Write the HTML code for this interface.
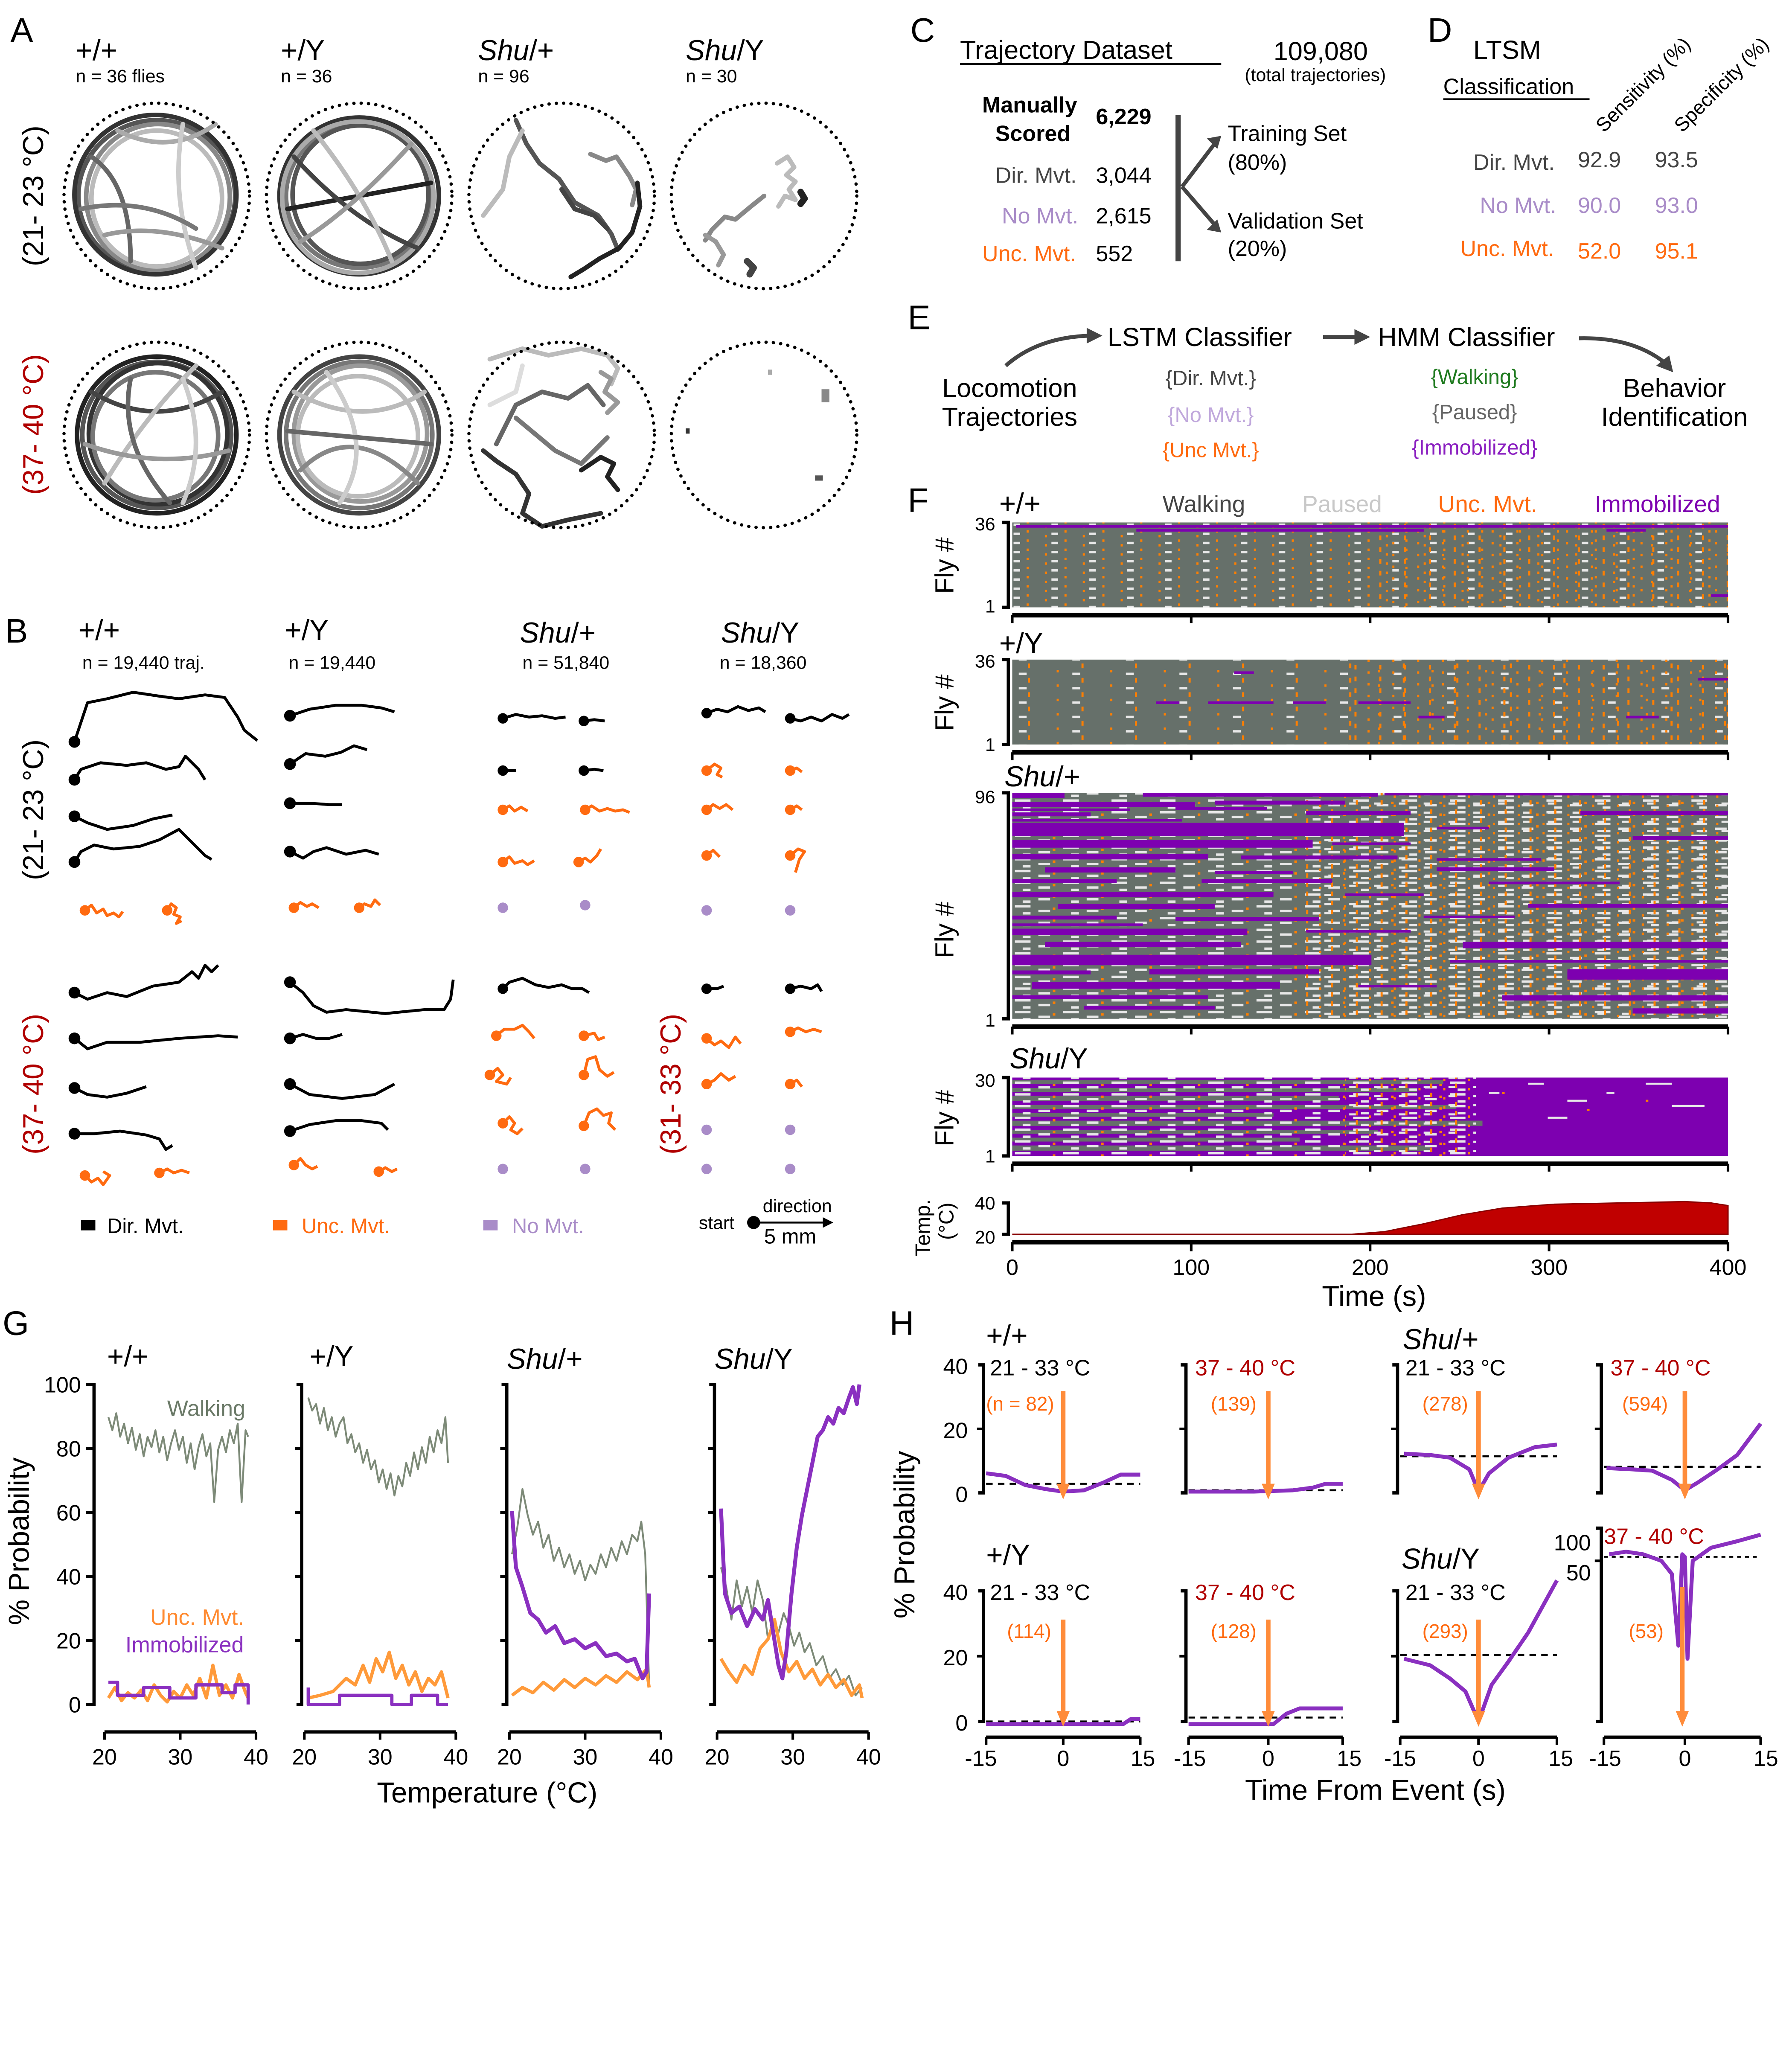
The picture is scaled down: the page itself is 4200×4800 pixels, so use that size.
<!DOCTYPE html>
<html><head><meta charset="utf-8"><style>
html,body{margin:0;padding:0;background:#fff}
svg{display:block}
text{font-family:"Liberation Sans",sans-serif}
</style></head><body>
<svg xmlns="http://www.w3.org/2000/svg" width="4200" height="4800" viewBox="0 0 1372 1568">
<defs>
<pattern id="po1" width="29" height="7" patternUnits="userSpaceOnUse"><rect x="3" y="0" width="1.6" height="1.8" fill="#ff7f00"/><rect x="17" y="3.6" width="1.6" height="1.8" fill="#ff7f00"/><rect x="22" y="1.8" width="5" height="1.8" fill="#e8e8e8"/></pattern>
<pattern id="po2" width="41" height="11" patternUnits="userSpaceOnUse"><rect x="8" y="2" width="1.6" height="3.6" fill="#ff7f00"/><rect x="30" y="7" width="1.6" height="1.8" fill="#ff7f00"/><rect x="1" y="9" width="6" height="1.8" fill="#e8e8e8"/></pattern>
<pattern id="po3" width="19" height="9" patternUnits="userSpaceOnUse"><rect x="2" y="1" width="1.6" height="1.8" fill="#ff7f00"/><rect x="11" y="5" width="1.6" height="3.6" fill="#ff7f00"/></pattern>
<pattern id="pm1" width="37" height="9" patternUnits="userSpaceOnUse"><rect x="0" y="0" width="12" height="1.8" fill="#e8e8e8"/><rect x="18" y="3.6" width="9" height="1.8" fill="#e8e8e8"/><rect x="6" y="5.4" width="6" height="1.8" fill="#e8e8e8"/><rect x="29" y="1.8" width="2" height="1.8" fill="#ff7f00"/></pattern>
<pattern id="pm2" width="19" height="7" patternUnits="userSpaceOnUse"><rect x="3" y="0" width="1.6" height="1.8" fill="#ff7f00"/><rect x="12" y="3.6" width="1.6" height="3.6" fill="#ff7f00"/><rect x="7" y="5.4" width="5" height="1.8" fill="#e8e8e8"/></pattern>
</defs>
<rect width="1372" height="1568" fill="#fff"/>
<g font-size="26"><text x="8" y="32">A</text><text x="4" y="492">B</text><text x="697" y="32">C</text><text x="1093" y="32">D</text><text x="695" y="252">E</text><text x="695" y="392">F</text><text x="2" y="1022">G</text><text x="681" y="1022">H</text></g>
<g font-size="22"><text x="58" y="46">+/+</text><text x="215" y="46">+/Y</text><text x="366" y="46" font-style="italic">Shu<tspan font-style="normal">/+</tspan></text><text x="525" y="46" font-style="italic">Shu<tspan font-style="normal">/Y</tspan></text></g>
<g font-size="14"><text x="58" y="63">n = 36 flies</text><text x="215" y="63">n = 36</text><text x="366" y="63">n = 96</text><text x="525" y="63">n = 30</text></g>
<text transform="translate(33,150) rotate(-90)" font-size="22" text-anchor="middle">(21- 23 °C)</text>
<text transform="translate(33,325) rotate(-90)" font-size="22" text-anchor="middle" fill="#b00000">(37- 40 °C)</text>
<g fill="none" stroke-width="3.5" stroke-linecap="round" stroke-linejoin="round">
<ellipse cx="120" cy="150" rx="60" ry="58" stroke="#555"/><ellipse cx="121" cy="151" rx="55" ry="56" stroke="#888"/><ellipse cx="119" cy="149" rx="62" ry="61" stroke="#333"/><ellipse cx="120" cy="152" rx="50" ry="52" stroke="#bbb"/>
<path d="M70,120 Q100,140 100,200" stroke="#666"/><path d="M80,180 Q120,170 170,190" stroke="#999"/><path d="M90,100 Q130,120 165,95" stroke="#aaa"/><path d="M140,95 Q130,150 150,205" stroke="#ccc"/><path d="M62,160 Q110,150 150,175" stroke="#777"/>
<ellipse cx="275" cy="150" rx="61" ry="60" stroke="#333"/><ellipse cx="275" cy="150" rx="56" ry="55" stroke="#777"/><ellipse cx="276" cy="149" rx="52" ry="53" stroke="#555"/><ellipse cx="274" cy="151" rx="58" ry="58" stroke="#aaa"/>
<path d="M220,160 L330,140" stroke="#222"/><path d="M225,120 Q270,170 320,190" stroke="#444"/><path d="M240,100 Q280,150 300,200" stroke="#bbb"/><path d="M230,185 Q270,160 315,110" stroke="#999"/>
<path d="M395,92 l8,18 l10,15 l15,12 l12,18 l18,10 l10,14 l5,12" stroke="#555"/>
<path d="M400,100 l-10,20 l-5,25 l-15,20" stroke="#bbb"/>
<path d="M452,118 l12,5 l8,-3 l10,15 l5,10 l-3,12" stroke="#888"/>
<path d="M488,140 l2,18 l-6,20 l-10,12 l-15,8 l-12,8 l-10,6" stroke="#222"/>
<path d="M430,145 l10,15 l15,5 l10,10" stroke="#444"/>
<path d="M595,125 l8,-5 l5,8 l-6,6 l7,5 l-5,6 l5,8 l-8,-3 l-5,8" stroke="#bbb"/>
<path d="M585,150 l-10,8 l-12,10 l-8,-2 l-10,10 l-5,8" stroke="#888"/>
<path d="M540,180 l8,5 l6,10 l-4,8" stroke="#999"/>
<path d="M572,200 l5,5 l-3,5" stroke="#444" stroke-width="5"/><path d="M613,147 l3,5 l-3,4" stroke="#222" stroke-width="5"/>
<ellipse cx="120" cy="333" rx="61" ry="60" stroke="#222"/><ellipse cx="120" cy="333" rx="57" ry="56" stroke="#555"/><ellipse cx="121" cy="332" rx="53" ry="54" stroke="#333"/><ellipse cx="119" cy="334" rx="48" ry="49" stroke="#777"/>
<path d="M70,300 Q120,330 170,300" stroke="#444"/><path d="M80,370 Q110,320 150,280" stroke="#bbb"/><path d="M100,290 Q90,340 130,385" stroke="#666"/><path d="M65,340 Q120,360 175,345" stroke="#999"/><path d="M140,290 Q160,340 140,385" stroke="#ccc"/>
<ellipse cx="275" cy="333" rx="61" ry="60" stroke="#444"/><ellipse cx="275" cy="333" rx="56" ry="56" stroke="#777"/><ellipse cx="276" cy="332" rx="51" ry="52" stroke="#999"/><ellipse cx="274" cy="334" rx="46" ry="46" stroke="#bbb"/>
<path d="M225,300 Q280,330 325,300" stroke="#bbb"/><path d="M230,360 Q270,320 320,370" stroke="#888"/><path d="M250,285 Q290,340 260,385" stroke="#ccc"/><path d="M220,330 L330,340" stroke="#666"/>
<path d="M375,275 l25,-8 l20,5 l25,-5 l20,5 l8,10 l-5,12" stroke="#bbb"/>
<path d="M460,285 l8,5 l-5,10 l10,8 l-8,8" stroke="#999"/>
<path d="M380,340 l15,-30 l20,-10 l20,5 l15,-10 l12,15" stroke="#666"/>
<path d="M370,345 l10,8 l15,10 l10,15 l-5,15 l15,10 l20,-5 l25,-5" stroke="#333"/>
<path d="M445,360 l15,-10 l10,5 l-5,10 l8,10" stroke="#222"/>
<path d="M395,320 l30,25 l20,10 l20,-20" stroke="#777"/>
<path d="M375,310 l20,-10 l5,-20" stroke="#ddd"/>
</g>
<g><rect x="629" y="298" width="6" height="10" fill="#888"/><rect x="525" y="328" width="3" height="4" fill="#333"/><rect x="624" y="364" width="6" height="4" fill="#555"/><rect x="588" y="283" width="3" height="4" fill="#aaa"/></g>
<g fill="none" stroke="#000" stroke-width="2.5" stroke-dasharray="0.1 5.5" stroke-linecap="round">
<circle cx="120" cy="150" r="71"/><circle cx="275" cy="150" r="71"/><circle cx="430" cy="150" r="71"/><circle cx="585" cy="150" r="71"/>
<circle cx="120" cy="333" r="71"/><circle cx="275" cy="333" r="71"/><circle cx="430" cy="333" r="71"/><circle cx="585" cy="333" r="71"/></g>
<g font-size="22"><text x="60" y="490">+/+</text><text x="218" y="490">+/Y</text><text x="398" y="492" font-style="italic">Shu<tspan font-style="normal">/+</tspan></text><text x="552" y="492" font-style="italic">Shu<tspan font-style="normal">/Y</tspan></text></g>
<g font-size="14"><text x="63" y="512">n = 19,440 traj.</text><text x="221" y="512">n = 19,440</text><text x="400" y="512">n = 51,840</text><text x="551" y="512">n = 18,360</text></g>
<text transform="translate(33,620) rotate(-90)" font-size="22" text-anchor="middle">(21- 23 °C)</text>
<text transform="translate(33,830) rotate(-90)" font-size="22" text-anchor="middle" fill="#b00000">(37- 40 °C)</text>
<text transform="translate(521,830) rotate(-90)" font-size="22" text-anchor="middle" fill="#b00000">(31- 33 °C)</text>
<g fill="none" stroke="#000" stroke-width="2.2" stroke-linejoin="round">
<path d="M57,568 l5,-15 l5,-15 l15,-3 l20,-5 l20,3 l15,2 l20,-3 l15,2 l10,15 l5,10 l10,8"/>
<path d="M57,597 l5,-8 l15,-5 l20,2 l15,-2 l15,5 l10,-2 l5,-8 l5,5 l5,5 l5,8"/>
<path d="M57,625 l10,5 l15,5 l20,-3 l15,-5 l15,-3"/>
<path d="M57,660 l5,-8 l10,-5 l15,3 l20,-2 l15,-5 l15,-8 l10,10 l10,10 l5,3"/>
<path d="M222,548 l15,-5 l20,-3 l20,0 l15,2 l10,3"/>
<path d="M222,585 l12,-8 l15,2 l12,-3 l10,-5 l10,3"/>
<path d="M222,615 l15,0 l15,1 l10,0"/>
<path d="M222,652 l10,5 l8,-5 l10,-3 l15,5 l15,-3 l10,3"/>
<path d="M57,760 l10,5 l15,-5 l15,3 l20,-8 l20,-3 l10,-8 l5,5 l5,-10 l5,5 l5,-5"/>
<path d="M57,795 l10,8 l15,-5 l25,0 l30,-3 l30,-2 l15,1"/>
<path d="M57,833 l10,5 l15,2 l15,-3 l15,-5"/>
<path d="M57,868 l15,0 l20,-2 l20,3 l10,3 l5,8 l5,-3"/>
<path d="M222,752 l10,8 l8,10 l10,5 l15,-2 l30,3 l30,-3 l15,0 l5,-8 l2,-15"/>
<path d="M222,795 l10,-3 l10,3 l10,0 l10,-3"/>
<path d="M222,830 l15,8 l25,3 l25,-3 l15,-8"/>
<path d="M222,866 l15,-5 l20,-3 l20,0 l15,2 l5,5"/>
<path d="M385,550 l10,-3 l10,2 l10,-1 l10,2 l8,-1"/><path d="M447,552 l8,-1 l8,1"/>
<path d="M385,590 l10,0"/><path d="M447,590 l8,-1 l7,1"/>
<path d="M385,757 l5,-5 l10,-3 l10,5 l10,2 l10,-2 l8,3 l8,0 l5,3"/>
<path d="M541,546 l8,-3 l8,2 l8,-4 l8,3 l8,-2 l5,3"/><path d="M605,550 l8,2 l8,-3 l8,3 l8,-5 l8,3 l5,-3"/>
<path d="M541,757 l8,0 l5,-2"/><path d="M605,757 l8,-2 l8,2 l5,-3 l3,5"/>
</g>
<g>
<circle cx="57" cy="568" r="4.5"/><circle cx="57" cy="597" r="4.5"/><circle cx="57" cy="625" r="4.5"/><circle cx="57" cy="660" r="4.5"/>
<circle cx="222" cy="548" r="4.5"/><circle cx="222" cy="585" r="4.5"/><circle cx="222" cy="615" r="4.5"/><circle cx="222" cy="652" r="4.5"/>
<circle cx="57" cy="760" r="4.5"/><circle cx="57" cy="795" r="4.5"/><circle cx="57" cy="833" r="4.5"/><circle cx="57" cy="868" r="4.5"/>
<circle cx="222" cy="752" r="4.5"/><circle cx="222" cy="795" r="4.5"/><circle cx="222" cy="830" r="4.5"/><circle cx="222" cy="866" r="4.5"/>
<circle cx="385" cy="550" r="4"/><circle cx="447" cy="552" r="4"/><circle cx="385" cy="590" r="4"/><circle cx="447" cy="590" r="4"/><circle cx="385" cy="757" r="4"/>
<circle cx="541" cy="546" r="4"/><circle cx="605" cy="550" r="4"/><circle cx="541" cy="757" r="4"/><circle cx="605" cy="757" r="4"/>
</g>
<g fill="none" stroke="#ff6a10" stroke-width="2.2" stroke-linejoin="round">
<path d="M65,697 l5,-4 l4,6 l5,-3 l3,5 l5,-2 l4,3 l3,-4"/><path d="M128,697 l3,-5 l4,3 l-2,5 l5,2 l-3,5 l4,-2"/>
<path d="M225,695 l5,-4 l5,3 l4,-2 l5,3"/><path d="M275,695 l4,-3 l5,2 l3,-5 l4,4"/>
<path d="M385,620 l5,-3 l4,4 l5,-3 l5,3"/><path d="M448,620 l5,-3 l6,4 l6,-2 l6,2 l6,-1 l5,2"/>
<path d="M385,660 l5,-4 l4,5 l6,-2 l4,3 l5,-3"/><path d="M443,660 l5,-3 l4,3 l5,-5 l3,-5"/>
<path d="M65,900 l5,5 l5,-3 l4,5 l5,-7 l-5,-3"/><path d="M122,898 l6,-3 l5,3 l6,-2 l6,2"/>
<path d="M225,892 l5,-5 l4,5 l5,3 l4,-2"/><path d="M290,897 l5,-3 l5,3 l4,-2"/>
<path d="M380,793 l6,-5 l8,0 l6,-3 l5,5 l4,5"/><path d="M447,793 l8,-2 l3,5 l5,-2"/>
<path d="M375,823 l6,-5 l4,5 l-5,5 l8,2 l3,-5"/><path d="M447,823 l3,-12 l6,-2 l3,10 l6,5 l5,-3"/>
<path d="M385,860 l5,-5 l4,5 l-3,5 l5,3 l4,-4"/><path d="M447,862 l4,-10 l6,-3 l5,5 l6,-2 l-2,8 l5,5"/>
<path d="M541,590 l6,-5 l5,3 l-3,5 l4,2"/><path d="M605,590 l5,-2 l4,3"/>
<path d="M541,620 l5,-4 l5,3 l5,-3 l5,4"/><path d="M605,620 l5,-3 l4,3"/>
<path d="M541,655 l5,-4 l5,5"/><path d="M605,655 l6,-5 l5,2 l-4,6 l-3,10"/>
<path d="M541,795 l6,5 l5,-3 l6,5 l5,-8 l4,5"/><path d="M605,790 l6,-3 l6,3 l6,-2 l6,2"/>
<path d="M541,830 l6,-3 l5,-5 l6,5 l5,-3"/><path d="M605,830 l5,-3 l4,5"/>
</g>
<g fill="#ff6a10"><circle cx="65" cy="697" r="4"/><circle cx="128" cy="697" r="4"/><circle cx="225" cy="695" r="4"/><circle cx="275" cy="695" r="4"/><circle cx="385" cy="620" r="4"/><circle cx="448" cy="620" r="4"/><circle cx="385" cy="660" r="4"/><circle cx="443" cy="660" r="4"/><circle cx="65" cy="900" r="4"/><circle cx="122" cy="898" r="4"/><circle cx="225" cy="892" r="4"/><circle cx="290" cy="897" r="4"/><circle cx="380" cy="793" r="4"/><circle cx="447" cy="793" r="4"/><circle cx="375" cy="823" r="4"/><circle cx="447" cy="823" r="4"/><circle cx="385" cy="860" r="4"/><circle cx="447" cy="862" r="4"/><circle cx="541" cy="590" r="4"/><circle cx="605" cy="590" r="4"/><circle cx="541" cy="620" r="4"/><circle cx="605" cy="620" r="4"/><circle cx="541" cy="655" r="4"/><circle cx="605" cy="655" r="4"/><circle cx="541" cy="795" r="4"/><circle cx="605" cy="790" r="4"/><circle cx="541" cy="830" r="4"/><circle cx="605" cy="830" r="4"/></g>
<g fill="#a98cc8"><circle cx="385" cy="695" r="4"/><circle cx="448" cy="693" r="4"/><circle cx="385" cy="895" r="4"/><circle cx="448" cy="895" r="4"/><circle cx="541" cy="697" r="4"/><circle cx="605" cy="697" r="4"/><circle cx="541" cy="865" r="4"/><circle cx="605" cy="865" r="4"/><circle cx="541" cy="895" r="4"/><circle cx="605" cy="895" r="4"/></g>
<g font-size="16"><rect x="62" y="934" width="11" height="8"/><text x="82" y="944">Dir. Mvt.</text>
<rect x="209" y="934" width="11" height="8" fill="#ff6a10"/><text x="231" y="944" fill="#ff6a10">Unc. Mvt.</text>
<rect x="370" y="934" width="11" height="8" fill="#a98cc8"/><text x="392" y="944" fill="#a98cc8">No Mvt.</text>
<text x="535" y="941" font-size="14">start</text><circle cx="577" cy="936" r="5"/><line x1="577" y1="936" x2="632" y2="936" stroke="#000" stroke-width="1.5"/><path d="M630,932 L638,936 L630,940Z"/>
<text x="584" y="928" font-size="14">direction</text><text x="585" y="952" font-size="16">5 mm</text></g>
<g font-size="20"><text x="735" y="45">Trajectory Dataset</text><line x1="735" y1="49" x2="935" y2="49" stroke="#000" stroke-width="1.5"/>
<text x="975" y="46">109,080</text><text x="953" y="62" font-size="14">(total trajectories)</text>
<g font-size="17"><text x="752" y="86" font-weight="bold">Manually</text><text x="762" y="108" font-weight="bold">Scored</text><text x="839" y="95" font-weight="bold">6,229</text>
<text x="762" y="140" fill="#444">Dir. Mvt.</text><text x="839" y="140">3,044</text>
<text x="767" y="171" fill="#a98cc8">No Mvt.</text><text x="839" y="171">2,615</text>
<text x="752" y="200" fill="#ff6a10">Unc. Mvt.</text><text x="839" y="200">552</text>
<text x="940" y="108">Training Set</text><text x="940" y="130">(80%)</text><text x="940" y="175">Validation Set</text><text x="940" y="196">(20%)</text></g>
<line x1="902" y1="88" x2="902" y2="200" stroke="#444" stroke-width="4"/>
<path d="M905,143 L930,110 M905,143 L930,172" stroke="#444" stroke-width="3" fill="none"/><path d="M924,106 L935,104 L932,114Z M924,176 L935,178 L932,168Z" fill="#444"/>
</g>
<g font-size="20"><text x="1128" y="45">LTSM</text><text x="1105" y="72" font-size="17">Classification</text><line x1="1105" y1="76" x2="1217" y2="76" stroke="#000" stroke-width="1.5"/>
<text transform="translate(1228,102) rotate(-45)" font-size="15">Sensitivity (%)</text><text transform="translate(1288,102) rotate(-45)" font-size="15">Specificity (%)</text>
<g font-size="17"><text x="1128" y="130" fill="#444">Dir. Mvt.</text><text x="1208" y="128" fill="#444">92.9</text><text x="1267" y="128" fill="#444">93.5</text>
<text x="1133" y="163" fill="#a98cc8">No Mvt.</text><text x="1208" y="163" fill="#a98cc8">90.0</text><text x="1267" y="163" fill="#a98cc8">93.0</text>
<text x="1118" y="196" fill="#ff6a10">Unc. Mvt.</text><text x="1208" y="198" fill="#ff6a10">52.0</text><text x="1267" y="198" fill="#ff6a10">95.1</text></g></g>
<g font-size="20"><text x="848" y="265">LSTM Classifier</text><text x="1055" y="265">HMM Classifier</text>
<text x="773" y="304" text-anchor="middle">Locomotion</text><text x="773" y="326" text-anchor="middle">Trajectories</text>
<text x="1282" y="304" text-anchor="middle">Behavior</text><text x="1282" y="326" text-anchor="middle">Identification</text>
<g font-size="16" text-anchor="middle"><text x="927" y="295" fill="#444">{Dir. Mvt.}</text><text x="927" y="323" fill="#c0a8dc">{No Mvt.}</text><text x="927" y="350" fill="#ff6a10">{Unc Mvt.}</text>
<text x="1129" y="294" fill="#1e7a1e">{Walking}</text><text x="1129" y="321" fill="#666">{Paused}</text><text x="1129" y="348" fill="#8a1ec0">{Immobilized}</text></g>
<path d="M770,280 Q795,258 835,257" stroke="#444" stroke-width="3" fill="none"/><path d="M832,251 L844,257 L832,263Z" fill="#444"/>
<path d="M1013,258 L1040,258" stroke="#444" stroke-width="3"/><path d="M1037,252 L1049,258 L1037,264Z" fill="#444"/>
<path d="M1209,259 Q1250,258 1275,278" stroke="#444" stroke-width="3" fill="none"/><path d="M1268,280 L1281,285 L1278,272Z" fill="#444"/></g>
<g font-size="18"><text x="890" y="392" fill="#444">Walking</text><text x="997" y="392" fill="#c8c8c8">Paused</text><text x="1101" y="392" fill="#ff6a10">Unc. Mvt.</text><text x="1221" y="392" fill="#7d00b0">Immobilized</text></g>
<g font-size="22"><text x="765" y="393">+/+</text><text x="765" y="500">+/Y</text><text x="769" y="602" font-style="italic">Shu<tspan font-style="normal">/+</tspan></text><text x="773" y="818" font-style="italic">Shu<tspan font-style="normal">/Y</tspan></text></g>
<g font-size="20"><text transform="translate(730,433) rotate(-90)" text-anchor="middle">Fly #</text><text transform="translate(730,538) rotate(-90)" text-anchor="middle">Fly #</text><text transform="translate(730,712) rotate(-90)" text-anchor="middle">Fly #</text><text transform="translate(730,856) rotate(-90)" text-anchor="middle">Fly #</text>
<text transform="translate(712,940) rotate(-90)" text-anchor="middle" font-size="16">Temp.</text><text transform="translate(730,935) rotate(-90)" text-anchor="middle" font-size="16">(°C)</text></g>
<g font-size="14" text-anchor="end"><text x="762" y="406">36</text><text x="762" y="469">1</text><text x="762" y="511">36</text><text x="762" y="575">1</text><text x="762" y="615">96</text><text x="762" y="786">1</text><text x="762" y="832">30</text><text x="762" y="890">1</text><text x="762" y="926">40</text><text x="762" y="952">20</text></g>
<!-- raster +/+ -->
<rect x="775" y="400" width="548" height="65" fill="#66706a"/>
<rect x="775" y="400" width="548" height="65" fill="url(#po1)"/>
<rect x="1050" y="400" width="273" height="65" fill="url(#po3)"/>
<rect x="778" y="402" width="545" height="2" fill="#7d00b0"/><rect x="870" y="405" width="220" height="2" fill="#7d00b0"/><rect x="1060" y="405" width="30" height="2" fill="#7d00b0"/><rect x="1230" y="405" width="30" height="2" fill="#7d00b0"/><rect x="1310" y="455" width="13" height="2" fill="#7d00b0"/>
<!-- raster +/Y -->
<rect x="775" y="505" width="548" height="65" fill="#66706a"/>
<rect x="775" y="505" width="548" height="65" fill="url(#po2)"/>
<rect x="1035" y="505" width="288" height="65" fill="url(#po3)"/>
<rect x="885" y="537" width="18" height="2" fill="#7d00b0"/><rect x="925" y="537" width="50" height="2" fill="#7d00b0"/><rect x="990" y="537" width="25" height="2" fill="#7d00b0"/><rect x="1040" y="537" width="40" height="2" fill="#7d00b0"/><rect x="1086" y="548" width="20" height="2" fill="#7d00b0"/><rect x="1245" y="548" width="25" height="2" fill="#7d00b0"/><rect x="1300" y="519" width="23" height="2" fill="#7d00b0"/><rect x="945" y="514" width="15" height="2" fill="#7d00b0"/>
<!-- raster Shu/+ -->
<rect x="775" y="607" width="548" height="173" fill="#66706a"/>
<rect x="775" y="607" width="548" height="173" fill="url(#pm1)"/>
<rect x="1000" y="607" width="323" height="173" fill="url(#pm2)"/>
<g fill="#7d00b0">
<rect x="775" y="607" width="40" height="4"/><rect x="875" y="607" width="180" height="3"/><rect x="1060" y="607" width="263" height="2"/>
<rect x="775" y="614" width="140" height="4"/><rect x="930" y="613" width="100" height="3"/>
<rect x="775" y="619" width="90" height="2"/><rect x="900" y="618" width="70" height="2"/>
<rect x="775" y="622" width="60" height="3"/><rect x="1000" y="621" width="80" height="3"/><rect x="1210" y="621" width="113" height="3"/>
<rect x="775" y="627" width="130" height="2"/>
<rect x="775" y="630" width="300" height="10"/><rect x="1100" y="633" width="40" height="2"/>
<rect x="775" y="643" width="230" height="6"/><rect x="1020" y="645" width="60" height="2"/><rect x="1250" y="640" width="73" height="3"/>
<rect x="775" y="654" width="150" height="4"/><rect x="950" y="655" width="120" height="3"/><rect x="1100" y="657" width="80" height="2"/>
<rect x="800" y="664" width="100" height="4"/><rect x="1100" y="664" width="90" height="3"/><rect x="930" y="667" width="60" height="2"/>
<rect x="775" y="673" width="80" height="3"/><rect x="920" y="673" width="100" height="3"/><rect x="1140" y="675" width="100" height="2"/>
<rect x="775" y="683" width="200" height="4"/><rect x="1030" y="684" width="60" height="2"/>
<rect x="810" y="692" width="120" height="4"/><rect x="1170" y="692" width="153" height="3"/>
<rect x="775" y="701" width="80" height="3"/><rect x="900" y="702" width="110" height="3"/><rect x="1090" y="701" width="70" height="2"/>
<rect x="775" y="707" width="100" height="2"/>
<rect x="775" y="711" width="180" height="5"/><rect x="1000" y="712" width="80" height="2"/>
<rect x="800" y="721" width="150" height="4"/><rect x="1120" y="721" width="203" height="5"/>
<rect x="775" y="731" width="275" height="8"/><rect x="1110" y="735" width="213" height="2"/>
<rect x="775" y="743" width="60" height="3"/><rect x="880" y="742" width="130" height="4"/><rect x="1200" y="742" width="123" height="8"/>
<rect x="790" y="752" width="190" height="5"/><rect x="1040" y="754" width="60" height="2"/>
<rect x="775" y="762" width="150" height="3"/><rect x="1150" y="762" width="173" height="4"/>
<rect x="830" y="770" width="100" height="3"/><rect x="1250" y="772" width="73" height="4"/>
</g>
<!-- raster Shu/Y -->
<rect x="775" y="825" width="548" height="60" fill="#7d00b0"/>
<g fill="#66706a">
<rect x="775" y="827" width="330" height="3"/><rect x="775" y="833" width="310" height="3"/><rect x="775" y="839" width="250" height="4"/><rect x="775" y="846" width="340" height="3"/><rect x="775" y="852" width="200" height="3"/><rect x="775" y="858" width="360" height="4"/><rect x="775" y="865" width="280" height="3"/><rect x="775" y="871" width="220" height="3"/><rect x="775" y="877" width="320" height="4"/>
</g>
<rect x="775" y="825" width="350" height="60" fill="url(#pm1)"/>
<rect x="1030" y="825" width="100" height="60" fill="url(#pm2)"/>
<g fill="#e8e8e8"><rect x="1170" y="829" width="12" height="1.5"/><rect x="1200" y="842" width="15" height="1.5"/><rect x="1260" y="829" width="20" height="1.5"/><rect x="1280" y="846" width="25" height="1.5"/><rect x="1185" y="855" width="15" height="1.5"/><rect x="1140" y="836" width="8" height="1.5"/><rect x="1230" y="836" width="6" height="1.5"/></g>
<g fill="#ff7f00"><rect x="1150" y="836" width="2" height="1.5"/><rect x="1215" y="849" width="2" height="1.5"/><rect x="1260" y="842" width="2" height="1.5"/></g>
<g stroke="#000" fill="none">
<path d="M767,400H772V465H767M767,505H772V570H767M767,607H772V780H767M767,825H772V885H767M767,921H772V945H767" stroke-width="2.5"/>
<path d="M775,471H1323M775,576H1323M775,786H1323M775,891H1323M775,951H1323" stroke-width="3.5"/>
<path d="M775,471v6M912,471v6M1049,471v6M1186,471v6M1323,471v6M775,576v6M912,576v6M1049,576v6M1186,576v6M1323,576v6M775,786v6M912,786v6M1049,786v6M1186,786v6M1323,786v6M775,891v6M912,891v6M1049,891v6M1186,891v6M1323,891v6M775,951v7M912,951v7M1049,951v7M1186,951v7M1323,951v7" stroke-width="2"/>
</g>
<path d="M775,945 L1035,945 L1060,943 L1090,937 L1120,930 L1150,925 L1190,922 L1240,921 L1290,920 L1310,921 L1323,923 L1323,945Z" fill="#c00000" stroke="#8a0000"/>
<g font-size="17" text-anchor="middle"><text x="775" y="976">0</text><text x="912" y="976">100</text><text x="1049" y="976">200</text><text x="1186" y="976">300</text><text x="1323" y="976">400</text><text x="1052" y="1000" font-size="22">Time (s)</text></g>
<!-- G -->
<g font-size="22"><text x="82" y="1046">+/+</text><text x="237" y="1046">+/Y</text><text x="388" y="1048" font-style="italic">Shu<tspan font-style="normal">/+</tspan></text><text x="547" y="1048" font-style="italic">Shu<tspan font-style="normal">/Y</tspan></text></g>
<text transform="translate(22,1180) rotate(-90)" font-size="22" text-anchor="middle">% Probability</text>
<g font-size="17" text-anchor="end"><text x="62" y="1066">100</text><text x="62" y="1115">80</text><text x="62" y="1164">60</text><text x="62" y="1213">40</text><text x="62" y="1262">20</text><text x="62" y="1311">0</text></g>
<text x="128" y="1084" font-size="17" fill="#6b7a68">Walking</text>
<text x="115" y="1244" font-size="17" fill="#ff8a30">Unc. Mvt.</text><text x="96" y="1265" font-size="17" fill="#8a30c0">Immobilized</text>
<g font-size="17" text-anchor="middle"><text x="80" y="1351">20</text><text x="138" y="1351">30</text><text x="196" y="1351">40</text><text x="233" y="1351">20</text><text x="291" y="1351">30</text><text x="349" y="1351">40</text><text x="390" y="1351">20</text><text x="448" y="1351">30</text><text x="506" y="1351">40</text><text x="549" y="1351">20</text><text x="607" y="1351">30</text><text x="665" y="1351">40</text>
<text x="373" y="1380" font-size="22">Temperature (°C)</text></g>
<g stroke="#000" fill="none">
<path d="M67,1060H72V1305H67M227,1060H231V1305H227M384,1060H388V1305H384M543,1060H547V1305H543" stroke-width="2.5"/>
<path d="M66,1060h6M66,1109h6M66,1158h6M66,1207h6M66,1256h6M66,1305h6M226,1109h5M226,1158h5M226,1207h5M226,1256h5M383,1109h5M383,1158h5M383,1207h5M383,1256h5M542,1109h5M542,1158h5M542,1207h5M542,1256h5" stroke-width="2"/>
<path d="M80,1326H196M233,1326H349M390,1326H506M549,1326H665" stroke-width="2.5"/>
<path d="M80,1326v6M138,1326v6M196,1326v6M233,1326v6M291,1326v6M349,1326v6M390,1326v6M448,1326v6M506,1326v6M549,1326v6M607,1326v6M665,1326v6" stroke-width="2"/>
</g>
<g fill="none" stroke-linejoin="round">
<path stroke="#7d8a78" stroke-width="1.4" d="M83,1085 L86,1095 L89,1082 L92,1100 L95,1090 L98,1105 L101,1093 L104,1110 L107,1098 L110,1115 L113,1100 L116,1108 L119,1095 L122,1112 L125,1100 L128,1118 L131,1105 L134,1095 L137,1110 L140,1100 L143,1120 L146,1105 L149,1125 L152,1108 L155,1098 L158,1115 L161,1105 L164,1150 L167,1110 L170,1100 L173,1112 L176,1095 L179,1105 L182,1090 L185,1150 L188,1095 L190,1100"/>
<path stroke="#ff9a3a" stroke-width="2.5" d="M83,1300 L88,1292 L93,1302 L98,1296 L103,1300 L108,1294 L113,1302 L118,1290 L123,1298 L128,1303 L133,1295 L138,1300 L143,1290 L148,1298 L153,1285 L158,1300 L163,1275 L168,1298 L173,1290 L178,1300 L183,1282 L188,1296 L190,1300"/>
<path stroke="#8a30c0" stroke-width="2.5" d="M83,1288 H90 V1298 H110 V1292 H130 V1300 H150 V1290 H170 V1296 H180 V1290 H190 V1305"/>
<path stroke="#7d8a78" stroke-width="1.4" d="M236,1070 L239,1080 L242,1075 L245,1090 L248,1078 L251,1095 L254,1085 L257,1100 L260,1090 L263,1085 L266,1105 L269,1098 L272,1112 L275,1105 L278,1120 L281,1110 L284,1125 L287,1118 L290,1135 L293,1125 L296,1140 L299,1128 L302,1145 L305,1130 L308,1138 L311,1120 L314,1130 L317,1112 L320,1125 L323,1108 L326,1120 L329,1100 L332,1112 L335,1095 L338,1105 L341,1085 L343,1120"/>
<path stroke="#ff9a3a" stroke-width="2.5" d="M236,1300 L245,1298 L255,1295 L265,1285 L272,1290 L278,1275 L283,1288 L288,1270 L293,1280 L298,1265 L303,1285 L308,1275 L313,1290 L318,1280 L323,1295 L328,1285 L333,1290 L338,1280 L343,1300"/>
<path stroke="#8a30c0" stroke-width="2.5" d="M236,1292 V1305 H260 V1298 H300 V1305 H315 V1298 H335 V1305 H343"/>
<path stroke="#7d8a78" stroke-width="1.4" d="M392,1190 L396,1170 L400,1140 L404,1160 L408,1175 L412,1165 L416,1185 L420,1175 L424,1195 L428,1185 L432,1200 L436,1190 L440,1205 L444,1195 L448,1210 L452,1198 L456,1205 L460,1190 L464,1200 L468,1185 L472,1195 L476,1180 L480,1190 L484,1175 L488,1180 L491,1165 L494,1190 L497,1290"/>
<path stroke="#ff9a3a" stroke-width="2.5" d="M392,1298 L400,1292 L408,1296 L416,1288 L424,1294 L432,1286 L440,1292 L448,1285 L456,1290 L464,1283 L472,1288 L480,1280 L488,1286 L495,1278 L497,1292"/>
<path stroke="#8a30c0" stroke-width="3" d="M392,1157 L395,1200 L400,1215 L406,1235 L412,1240 L418,1250 L425,1245 L432,1258 L440,1255 L448,1262 L456,1258 L464,1268 L472,1266 L480,1272 L486,1270 L492,1285 L495,1280 L497,1220"/>
<path stroke="#7d8a78" stroke-width="1.4" d="M552,1200 L556,1215 L560,1240 L564,1210 L568,1230 L572,1215 L576,1235 L580,1210 L584,1225 L588,1255 L592,1240 L596,1250 L600,1235 L604,1245 L608,1260 L612,1250 L616,1265 L620,1258 L625,1275 L630,1268 L635,1285 L640,1278 L645,1290 L650,1283 L655,1298 L660,1292"/>
<path stroke="#ff9a3a" stroke-width="2.5" d="M552,1270 L558,1280 L564,1288 L570,1275 L576,1282 L582,1262 L588,1255 L593,1240 L598,1265 L604,1280 L610,1272 L616,1285 L622,1278 L628,1290 L634,1282 L640,1292 L646,1286 L652,1298 L658,1290 L660,1300"/>
<path stroke="#8a30c0" stroke-width="3" d="M552,1155 L555,1220 L560,1235 L566,1230 L572,1245 L578,1232 L584,1240 L588,1225 L592,1250 L596,1275 L599,1285 L602,1265 L606,1220 L610,1185 L614,1160 L618,1140 L622,1120 L626,1100 L630,1095 L634,1085 L638,1090 L642,1078 L646,1082 L650,1070 L653,1062 L656,1075 L658,1060"/>
</g>
<!-- H -->
<g font-size="22"><text x="755" y="1030">+/+</text><text x="755" y="1198">+/Y</text><text x="1074" y="1033" font-style="italic">Shu<tspan font-style="normal">/+</tspan></text><text x="1073" y="1201" font-style="italic">Shu<tspan font-style="normal">/Y</tspan></text></g>
<text transform="translate(700,1175) rotate(-90)" font-size="22" text-anchor="middle">% Probability</text>
<g font-size="17" text-anchor="end"><text x="741" y="1052">40</text><text x="741" y="1101">20</text><text x="741" y="1150">0</text><text x="741" y="1225">40</text><text x="741" y="1275">20</text><text x="741" y="1325">0</text><text x="1218" y="1187">100</text><text x="1218" y="1210">50</text></g>
<g font-size="17"><text x="758" y="1053">21 - 33 °C</text><text x="915" y="1053" fill="#b00000">37 - 40 °C</text><text x="1076" y="1053">21 - 33 °C</text><text x="1233" y="1053" fill="#b00000">37 - 40 °C</text>
<text x="758" y="1225">21 - 33 °C</text><text x="915" y="1225" fill="#b00000">37 - 40 °C</text><text x="1076" y="1225">21 - 33 °C</text><text x="1228" y="1182" fill="#b00000">37 - 40 °C</text></g>
<g font-size="15" fill="#ff6a10"><text x="755" y="1080">(n = 82)</text><text x="927" y="1080">(139)</text><text x="1089" y="1080">(278)</text><text x="1242" y="1080">(594)</text><text x="771" y="1254">(114)</text><text x="927" y="1254">(128)</text><text x="1089" y="1254">(293)</text><text x="1247" y="1254">(53)</text></g>
<g font-size="17" text-anchor="middle"><text x="751" y="1352">-15</text><text x="814" y="1352">0</text><text x="875" y="1352">15</text><text x="911" y="1352">-15</text><text x="971" y="1352">0</text><text x="1033" y="1352">15</text><text x="1072" y="1352">-15</text><text x="1132" y="1352">0</text><text x="1195" y="1352">15</text><text x="1229" y="1352">-15</text><text x="1290" y="1352">0</text><text x="1352" y="1352">15</text>
<text x="1053" y="1378" font-size="22">Time From Event (s)</text></g>
<g stroke="#000" fill="none">
<path d="M749,1045H753V1143H749M904,1045H908V1143H904M1066,1045H1070V1143H1066M1222,1045H1226V1143H1222M749,1218H753V1318H749M904,1218H908V1318H904M1066,1218H1070V1318H1066M1222,1170H1226V1318H1222" stroke-width="2.5"/>
<path d="M748,1094h5M903,1094h5M1065,1094h5M1221,1094h5M748,1268h5M903,1268h5M1065,1268h5M1221,1195h5" stroke-width="2"/>
<path d="M755,1330H873M910,1330H1028M1072,1330H1192M1228,1330H1348" stroke-width="2.5"/>
<path d="M755,1330v6M814,1330v6M873,1330v6M910,1330v6M971,1330v6M1028,1330v6M1072,1330v6M1132,1330v6M1192,1330v6M1228,1330v6M1290,1330v6M1348,1330v6" stroke-width="2"/>
<g stroke-width="1.5" stroke-dasharray="5 4"><path d="M755,1136H873M910,1141H1028M1072,1115H1192M1228,1123H1348M755,1318H873M910,1315H1028M1072,1267H1192"/></g>
<path d="M1228,1192H1348" stroke-width="1.2" stroke-dasharray="3 3"/>
</g>
<g fill="none" stroke="#8a30c0" stroke-width="3" stroke-linejoin="round">
<path d="M755,1128 L770,1130 L785,1137 L800,1140 L814,1142 L830,1141 L845,1135 L858,1129 L873,1129"/>
<path d="M910,1142 L960,1142 L990,1141 L1005,1139 L1015,1136 L1028,1136"/>
<path d="M1075,1113 L1095,1114 L1110,1116 L1125,1125 L1132,1142 L1140,1128 L1155,1116 L1175,1108 L1192,1106"/>
<path d="M1230,1124 L1250,1125 L1265,1126 L1280,1133 L1290,1141 L1300,1135 L1315,1125 L1330,1114 L1348,1090"/>
<path d="M755,1320 L860,1320 L866,1316 L873,1316"/>
<path d="M910,1320 L975,1320 L985,1312 L995,1308 L1028,1308"/>
<path d="M1075,1270 L1095,1275 L1110,1285 L1122,1295 L1132,1318 L1142,1290 L1155,1272 L1170,1250 L1192,1210"/>
<path d="M1232,1190 L1245,1188 L1258,1190 L1272,1195 L1280,1205 L1285,1260 L1288,1190 L1290,1192 L1292,1270 L1296,1195 L1310,1185 L1330,1180 L1348,1175"/>
</g>
<g stroke="#ff8c3a" stroke-width="3.5"><path d="M814,1065V1138M971,1065V1138M1132,1065V1138M1290,1065V1138M814,1240V1312M971,1240V1312M1132,1240V1312M1288,1215V1312"/></g>
<g fill="#ff8c3a"><path d="M809,1136L814,1148L819,1136Z M966,1136L971,1148L976,1136Z M1127,1136L1132,1148L1137,1136Z M1285,1136L1290,1148L1295,1136Z M809,1310L814,1322L819,1310Z M966,1310L971,1322L976,1310Z M1127,1310L1132,1322L1137,1310Z M1283,1310L1288,1322L1293,1310Z"/></g>
</svg>
</body></html>
